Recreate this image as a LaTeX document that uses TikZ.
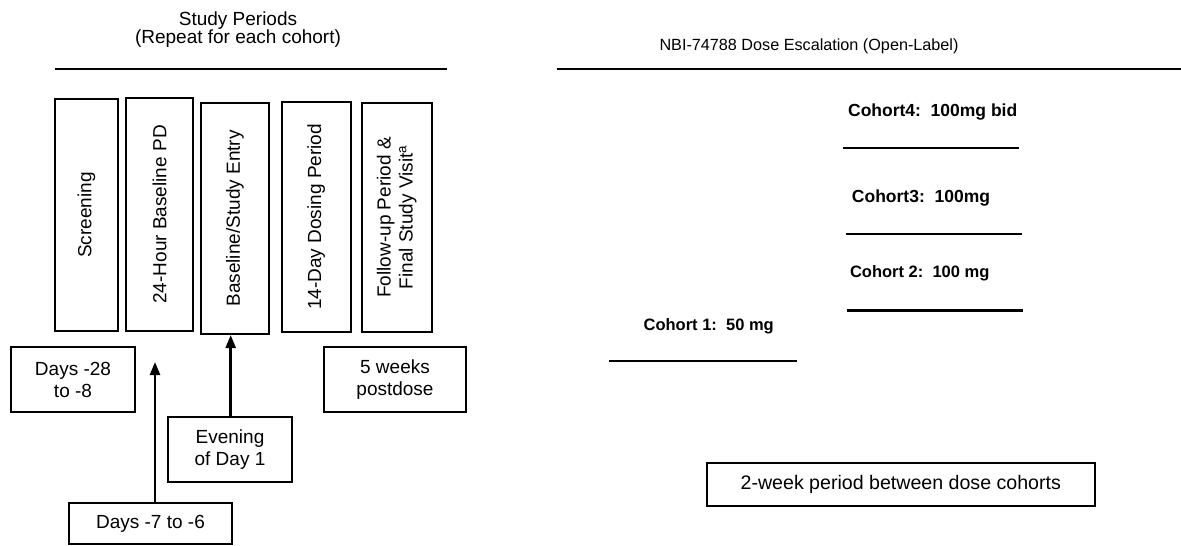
\documentclass[tikz,border=0pt]{standalone}
\usepackage{fontspec}
\setmainfont{Liberation Sans}
\usetikzlibrary{arrows.meta}
\tikzset{
  txt/.style={font=\fontsize{19}{22}\selectfont, align=center, inner sep=0pt},
  period/.style={txt, draw, line width=2pt, rotate=90},
  infobox/.style={txt, draw, line width=2pt},
  cohort/.style={font=\fontsize{17.5}{20}\selectfont\bfseries, inner sep=0pt},
  rule/.style={line width=2.5pt},
  uparrow/.style={line width=2.5pt, -{Triangle[width=10pt,length=13pt]}}
}
\begin{document}
\begin{tikzpicture}[x=1pt,y=-1pt]
\useasboundingbox (0,0) rectangle (1181,546);
% titles
\node[txt, font=\fontsize{19}{18}\selectfont] (t1) at (238,29.5) {Study Periods\\(Repeat for each cohort)};
\node[txt, font=\fontsize{16.2}{20}\selectfont] (t2) at (809,46) {NBI-74788 Dose Escalation (Open-Label)};
\draw[rule] (55,69) -- (447,69);
\draw[rule] (557,69) -- (1181,69);
% period boxes (rotated)
\node[period, minimum width=231.4pt, minimum height=62.7pt] (scr) at (86.4,215) {Screening};
\node[period, minimum width=232.7pt, minimum height=67pt] (hr) at (159.5,214.4) {24-Hour Baseline PD};
\node[period, minimum width=231.3pt, minimum height=67.7pt] (base) at (234.9,218.4) {Baseline/Study Entry};
\node[period, minimum width=230.3pt, minimum height=69pt] (dose) at (316.2,216.9) {14-Day Dosing Period};
\node[period, minimum width=229.3pt, minimum height=70pt] (fol) at (396.7,217.4) {Follow-up Period \&\\Final Study Visit\textsuperscript{a}};
% info boxes
\node[infobox, minimum width=124pt, minimum height=65pt] (d28) at (73,379.5) {Days -28\\to -8};
\node[infobox, minimum width=163pt, minimum height=41.3pt] (d7) at (150.5,523.4) {Days -7 to -6};
\node[infobox, minimum width=124pt, minimum height=65pt] (ev) at (230,449.5) {Evening\\of Day 1};
\node[infobox, minimum width=142pt, minimum height=65pt] (wk5) at (395,379.5) {5 weeks\\postdose};
\node[infobox, minimum width=388pt, minimum height=43pt, font=\fontsize{19.6}{22}\selectfont] (tw) at (900.8,484.5) {2-week period between dose cohorts};
% arrows
\coordinate (tip1) at (155,362);
\draw[uparrow] (d7.north -| tip1) -- (tip1);
\draw[uparrow] ([xshift=0.7pt]ev.north) -- ([xshift=0.7pt]ev.north |- base.west);
% cohorts
\node[cohort] (c4) at (932.7,112) {Cohort4:\ \ 100mg bid};
\draw[rule] (843,148) -- (1019,148);
\node[cohort] (c3) at (921,198) {Cohort3:\ \ 100mg};
\draw[rule] (846,234) -- (1022,234);
\node[cohort, font=\fontsize{16.5}{20}\selectfont\bfseries] (c2) at (919.7,273) {Cohort 2:\ \ 100 mg};
\draw[rule] (847,310.7) -- (1023,310.7);
\node[cohort, font=\fontsize{16.5}{20}\selectfont\bfseries] (c1) at (708.7,326.7) {Cohort 1:\ \ 50 mg};
\draw[rule] (609,361) -- (797,361);
\end{tikzpicture}
\end{document}
